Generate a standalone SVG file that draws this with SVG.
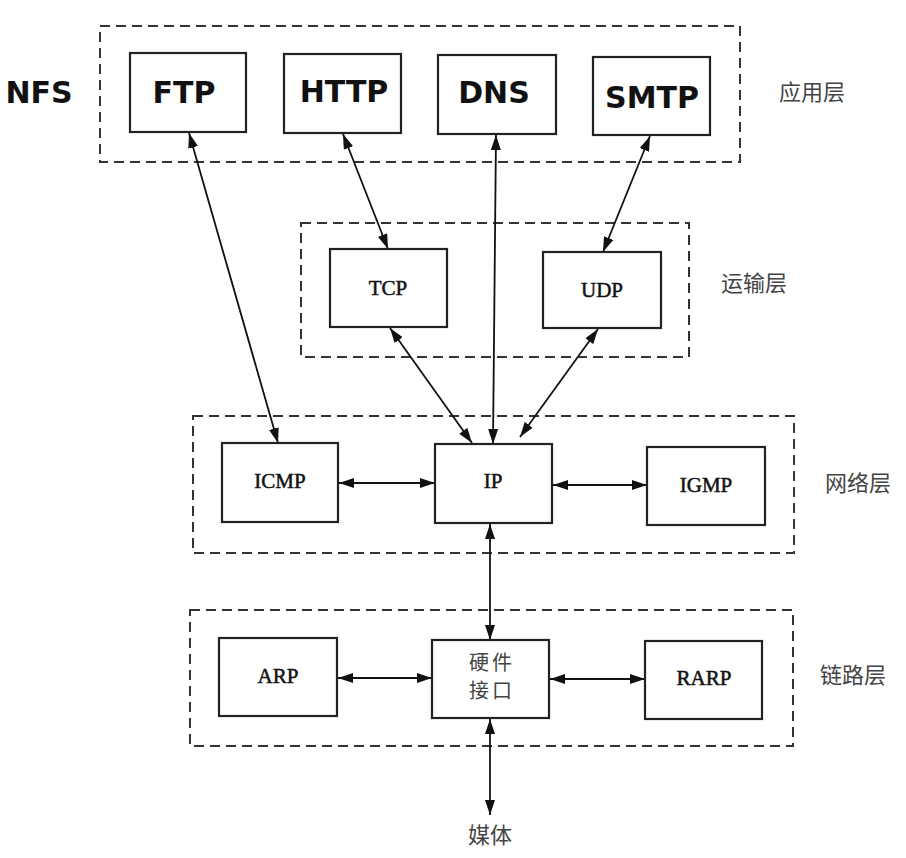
<svg xmlns="http://www.w3.org/2000/svg" width="906" height="858" viewBox="0 0 906 858">
<style>
.layer{fill:none;stroke:#333;stroke-width:2;stroke-dasharray:10 6}
.box{fill:#fff;stroke:#222;stroke-width:2.2}
.app{font-family:"DejaVu Sans","Open Sans",sans-serif;font-weight:bold;font-size:30px;fill:#111;text-anchor:middle}
.proto{font-family:"Liberation Serif","Times New Roman",serif;font-size:21px;fill:#111;stroke:#111;stroke-width:0.5;text-anchor:middle}
.cn{font-family:"Noto Sans CJK SC",sans-serif;font-size:22px;fill:#444;text-anchor:middle}
.hwt{font-family:"Noto Sans CJK SC",sans-serif;font-size:20px;fill:#444;text-anchor:middle;letter-spacing:3px}
.conn{stroke:#111;stroke-width:1.8;fill:none;marker-start:url(#ah);marker-end:url(#ah)}
</style>
<defs>
<marker id="ah" viewBox="0 0 15 10" refX="15" refY="5" markerWidth="15" markerHeight="10" markerUnits="userSpaceOnUse" orient="auto-start-reverse">
<path d="M0,0 L15,5 L0,10 Z" fill="#111"/>
</marker>
</defs>
<rect width="906" height="858" fill="#fff"/>
<g id="layers">
<rect class="layer" x="100" y="26" width="640" height="136"/>
<rect class="layer" x="301" y="223" width="388" height="134"/>
<rect class="layer" x="193" y="416" width="601" height="137"/>
<rect class="layer" x="190" y="610" width="603" height="136"/>
</g>
<g id="connectors">
<line class="conn" x1="189" y1="133" x2="278" y2="443"/>
<line class="conn" x1="343" y1="134" x2="388" y2="249"/>
<line class="conn" x1="496" y1="135" x2="493" y2="444"/>
<line class="conn" x1="650" y1="136" x2="603" y2="252"/>
<line class="conn" x1="390" y1="328" x2="472" y2="443"/>
<line class="conn" x1="598" y1="329" x2="520" y2="437"/>
<line class="conn" x1="339" y1="483" x2="435" y2="483"/>
<line class="conn" x1="553" y1="485" x2="647" y2="485"/>
<line class="conn" x1="490" y1="524" x2="490" y2="640"/>
<line class="conn" x1="338" y1="678" x2="432" y2="678"/>
<line class="conn" x1="550" y1="679" x2="645" y2="679"/>
<line class="conn" x1="490" y1="719" x2="490" y2="815"/>
</g>
<g id="nfs"><text class="app" x="39" y="103">NFS</text></g>
<g id="ftp"><rect class="box" x="130" y="53" width="116" height="79"/><text class="app" x="184" y="103">FTP</text></g>
<g id="http"><rect class="box" x="284" y="54" width="117" height="79"/><text class="app" x="344" y="102">HTTP</text></g>
<g id="dns"><rect class="box" x="438" y="55" width="118" height="79"/><text class="app" x="494" y="103">DNS</text></g>
<g id="smtp"><rect class="box" x="593" y="57" width="117" height="78"/><text class="app" x="652" y="108">SMTP</text></g>
<g id="app-label"><text class="cn" x="812" y="100">应用层</text></g>
<g id="tcp"><rect class="box" x="330" y="249" width="117" height="78"/><text class="proto" x="388" y="295">TCP</text></g>
<g id="udp"><rect class="box" x="543" y="252" width="118" height="76"/><text class="proto" x="602" y="297">UDP</text></g>
<g id="transport-label"><text class="cn" x="754" y="291">运输层</text></g>
<g id="icmp"><rect class="box" x="222" y="443" width="116" height="79"/><text class="proto" x="280" y="488">ICMP</text></g>
<g id="ip"><rect class="box" x="435" y="444" width="117" height="79"/><text class="proto" x="493" y="488">IP</text></g>
<g id="igmp"><rect class="box" x="647" y="447" width="118" height="78"/><text class="proto" x="706" y="492">IGMP</text></g>
<g id="network-label"><text class="cn" x="858" y="491">网络层</text></g>
<g id="arp"><rect class="box" x="219" y="638" width="118" height="78"/><text class="proto" x="278" y="683">ARP</text></g>
<g id="hw"><rect class="box" x="432" y="640" width="117" height="78"/><text class="hwt" x="492" y="670">硬件</text><text class="hwt" x="492" y="698">接口</text></g>
<g id="rarp"><rect class="box" x="645" y="641" width="117" height="78"/><text class="proto" x="704" y="685">RARP</text></g>
<g id="link-label"><text class="cn" x="853" y="683">链路层</text></g>
<g id="media"><text class="cn" x="490" y="843">媒体</text></g>
</svg>
